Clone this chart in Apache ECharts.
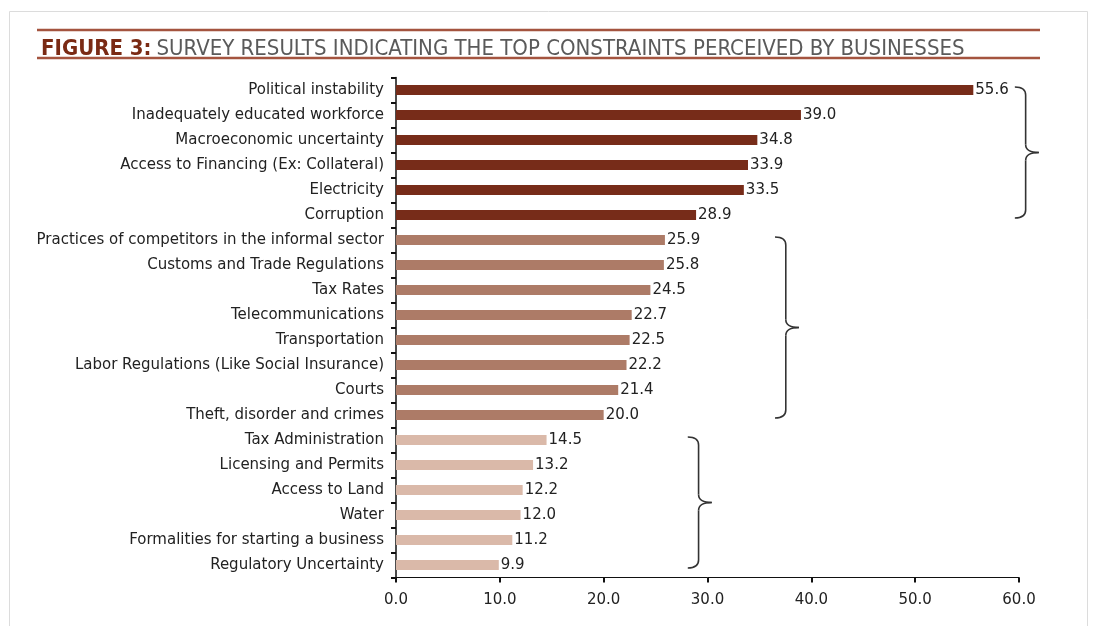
<!DOCTYPE html>
<html><head><meta charset="utf-8">
<script src="https://cdn.jsdelivr.net/npm/echarts@6/dist/echarts.min.js"></script>
<style>html,body{margin:0;padding:0;background:#fff}#c{width:1099px;height:626px}</style>
</head><body><div id="c"></div>
<script>
const categories = [
  'Political instability',
  'Inadequately educated workforce',
  'Macroeconomic uncertainty',
  'Access to Financing (Ex: Collateral)',
  'Electricity',
  'Corruption',
  'Practices of competitors in the informal sector',
  'Customs and Trade Regulations',
  'Tax Rates',
  'Telecommunications',
  'Transportation',
  'Labor Regulations (Like Social Insurance)',
  'Courts',
  'Theft, disorder and crimes',
  'Tax Administration',
  'Licensing and Permits',
  'Access to Land',
  'Water',
  'Formalities for starting a business',
  'Regulatory Uncertainty'
];
const values = [55.6, 39.0, 34.8, 33.9, 33.5, 28.9, 25.9, 25.8, 24.5, 22.7, 22.5, 22.2, 21.4, 20.0, 14.5, 13.2, 12.2, 12.0, 11.2, 9.9];
const groupOf = [0,0,0,0,0,0, 1,1,1,1,1,1,1,1, 2,2,2,2,2,2];
const groupColors = ['#772c19', '#ad7b67', '#dab9a9'];
const xTickLabels = ['0.0','10.0','20.0','30.0','40.0','50.0','60.0'];
// brace groups: first/last category index and left x (data units)
const braceFrom = [0, 6, 14];
const braceTo = [5, 13, 19];
const braceX = [59.6, 36.5, 28.1];

const titleMain = 'FIGURE 3:';
const titleRest = 'SURVEY RESULTS INDICATING THE TOP CONSTRAINTS PERCEIVED BY BUSINESSES';

const chart = echarts.init(document.getElementById('c'), null, {renderer: 'canvas'});
const font = 'DejaVu Sans, Liberation Sans, Arial, sans-serif';
const tfont = 'DejaVu Sans Condensed, Liberation Sans Narrow, Liberation Sans, Arial';

chart.setOption({
  animation: false,
  backgroundColor: '#fff',
  title: {
    text: '{a|' + titleMain + '} {b|' + titleRest + '}',
    left: 36, top: 33,
    textStyle: {
      fontWeight: 'normal',
      rich: {
        a: {fontFamily: tfont, fontWeight: 'bold', fontSize: 22, color: '#7a2a14'},
        b: {fontFamily: tfont, fontWeight: 'normal', fontSize: 22, color: '#5a5a5a'}
      }
    }
  },
  grid: {left: 396, right: 80, top: 77.5, bottom: 48.5, containLabel: false},
  xAxis: {
    type: 'value', min: 0, max: 60, interval: 10,
    axisLine: {show: true, lineStyle: {color: '#111', width: 1}},
    axisTick: {show: true, length: 5, lineStyle: {color: '#111', width: 2}},
    splitLine: {show: false},
    axisLabel: {
      color: '#222', fontSize: 15, fontFamily: font, margin: 15,
      formatter: (v) => xTickLabels[Math.round(v / 10)]
    }
  },
  yAxis: {
    type: 'category', inverse: true, data: categories,
    axisLine: {show: true, lineStyle: {color: '#111', width: 1.5}},
    axisTick: {show: true, length: 5, lineStyle: {color: '#111', width: 2}},
    axisLabel: {color: '#222', fontSize: 15, fontFamily: font, margin: 12}
  },
  series: [{
    type: 'bar',
    barWidth: 10,
    data: values.map((v, i) => ({value: v, itemStyle: {color: groupColors[groupOf[i]]}})),
    label: {
      show: true, position: 'right', distance: 2,
      color: '#222', fontSize: 15, fontFamily: font,
      formatter: (p) => p.value.toFixed(1)
    }
  }]
});

function braceParts(xL, yT, yB, w) {
  const xm = xL + w * 0.45, xt = xL + w, ym = (yT + yB) / 2, r = 8;
  const st = {fill: 'none', stroke: '#333', lineWidth: 1.6};
  return [
    {type: 'bezierCurve', shape: {x1: xL, y1: yT, x2: xm, y2: yT + r, cpx1: xm, cpy1: yT}, style: st},
    {type: 'line', shape: {x1: xm, y1: yT + r, x2: xm, y2: ym - r}, style: st},
    {type: 'bezierCurve', shape: {x1: xm, y1: ym - r, x2: xt, y2: ym, cpx1: xm, cpy1: ym}, style: st},
    {type: 'bezierCurve', shape: {x1: xt, y1: ym, x2: xm, y2: ym + r, cpx1: xm, cpy1: ym}, style: st},
    {type: 'line', shape: {x1: xm, y1: ym + r, x2: xm, y2: yB - r}, style: st},
    {type: 'bezierCurve', shape: {x1: xm, y1: yB - r, x2: xL, y2: yB, cpx1: xm, cpy1: yB}, style: st}
  ];
}

const graphics = [
  {type: 'rect', shape: {x: 9.5, y: 11.5, width: 1078, height: 700}, style: {fill: 'none', stroke: '#dcdcdc', lineWidth: 1}, silent: true, z: -1},
  {type: 'line', shape: {x1: 37, y1: 30, x2: 1040, y2: 30}, style: {stroke: '#a4543f', lineWidth: 2.5}},
  {type: 'line', shape: {x1: 37, y1: 58, x2: 1040, y2: 58}, style: {stroke: '#a4543f', lineWidth: 2.5}}
];
for (let g = 0; g < braceFrom.length; g++) {
  const pTop = chart.convertToPixel({gridIndex: 0}, [braceX[g], braceFrom[g]]);
  const pBot = chart.convertToPixel({gridIndex: 0}, [braceX[g], braceTo[g]]);
  graphics.push({type: 'group', children: braceParts(pTop[0], pTop[1] - 3, pBot[1] + 3, 24)});
}
chart.setOption({graphic: graphics});
</script>
</body></html>
